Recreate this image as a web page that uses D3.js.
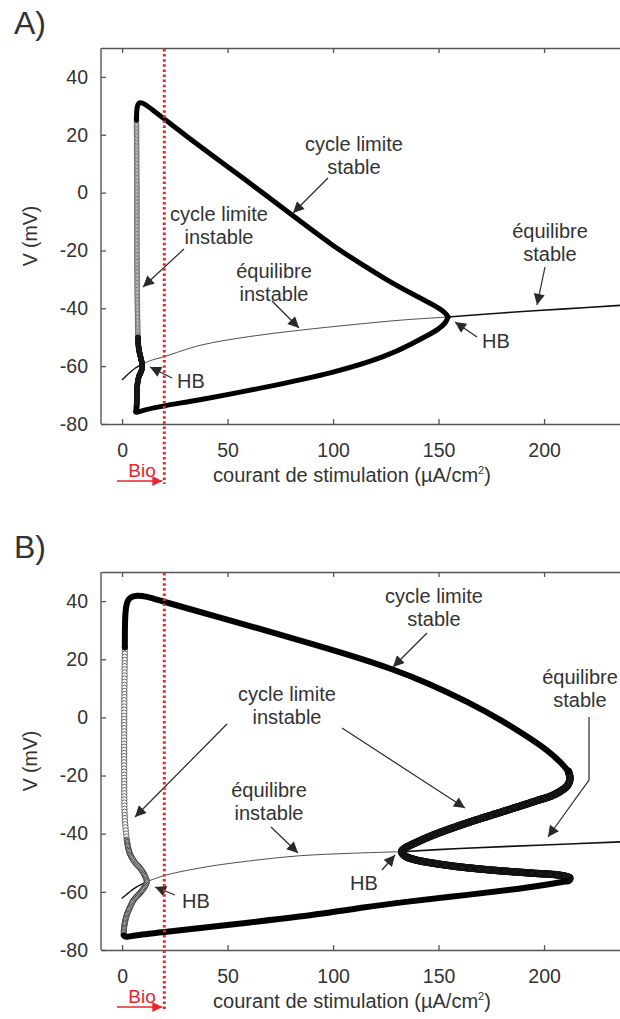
<!DOCTYPE html>
<html><head><meta charset="utf-8">
<script src="https://cdn.jsdelivr.net/npm/d3@7"></script>
<style>
html,body{margin:0;padding:0;background:#fff;}
svg{display:block;}
text{font-family:"Liberation Sans",Arial,sans-serif;fill:#333;}
</style></head>
<body>
<svg id="c" width="620" height="1019"></svg>
<script>
// ---------- data ----------
const xTicks = [0, 50, 100, 150, 200];
const yTicks = [-80, -60, -40, -20, 0, 20, 40];
const xLabel = "courant de stimulation (µA/cm";
const yLabel = "V (mV)";
const bioLabel = "Bio";
const bioCurrent = 20;

// Panel A
const eqStableLowA = [[0,-64.8],[2,-63.3],[4,-62],[6,-60.8],[8,-59.9],[9.5,-59.4]];
const eqUnstableA = [[9.5,-59.4],[13,-58.2],[20,-56.7],[37,-52.8],[60,-49.8],[84,-47.6],[110,-45.6],[132,-44.1],[154.5,-43]];
const eqStableHighA = [[154.5,-43],[180,-41.6],[210,-40.2],[236,-39]];
const cycleStableMaxA = [[6.8,25],[6.9,28.5],[7.4,30.6],[8.5,31.3],[10.5,30.8],[15,28.3],[20,25.5],[35,17],[51,8.5],[65,0.8],[81,-8],[100,-18.5],[113,-24.5],[125.6,-30.3],[138,-35.2],[146,-38.2],[151,-40.3],[153.5,-41.8],[154.5,-43]];
const cycleStableMinA = [[154.5,-43],[153.5,-45],[150,-47.2],[145,-49.3],[138,-52],[125.6,-56.6],[100,-62.4],[68.7,-67.2],[37,-71.7],[20,-73.6],[10,-75.2],[6.2,-76.2],[6.4,-75.5],[6.8,-74.5]];
const cycleUnstableUpperA = [[6.8,26],[6.9,15],[7,0],[7,-15],[7.1,-30],[7.3,-42],[7.5,-50]];
const cycleUnstableLowerA = [[7.5,-50],[7.9,-54],[8.8,-57],[9.5,-59.5],[9.2,-61.5],[8,-63.5],[7.3,-66],[7,-70],[6.9,-73],[6.8,-74.5]];

// Panel B
const eqStableLowB = [[-0.2,-62.3],[2,-61],[4,-59.8],[6,-58.7],[9,-57.5],[11.7,-56.5]];
const eqUnstableB = [[11.7,-56.5],[21,-54.2],[40,-51.4],[60,-49.4],[84,-47.6],[110,-46.7],[132.5,-46.2]];
const eqStableHighB = [[132.5,-46.2],[160,-45.1],[200,-43.9],[236,-42.8]];
const cycleStableMaxB = [[1.3,24],[1.3,30],[1.5,36],[2.2,39.7],[3.8,41.4],[7,42],[11,41.7],[19.6,39.8],[50,33.6],[84.4,26.5],[110,21],[128.4,16.6],[146,11.5],[163.4,5.5],[180,-1],[193,-7],[202,-11.5],[208,-15.5],[211.5,-18.5]];
const cycleUnstableRightB = [[211.5,-18.5],[212.3,-21],[211,-23.5],[205,-26.5],[195,-29],[180,-32.5],[163.5,-36.3],[147.4,-40.5],[138,-43.5],[134,-45],[132.5,-46.2],[134,-47.6],[138,-48.8],[155.5,-51],[175,-52.5],[195,-53.6],[207.6,-54.3],[212.3,-55.3],[211,-56.3]];
const cycleStableMinB = [[211,-56.3],[204.3,-57.2],[190,-58.8],[163.5,-61.1],[132,-63.6],[116,-65.2],[84.4,-68.6],[50,-71.4],[21.2,-73.7],[5,-75],[1.5,-75.7],[0.8,-75]];
const cycleUnstableUpperB = [[1.3,24],[1.1,10],[1,-5],[1,-20],[1.3,-35],[2.2,-42]];
const cycleUnstableLowerB = [[2.2,-42],[3.5,-46.5],[6,-49.8],[8.7,-52],[10.8,-54.5],[11.7,-56.5],[10.5,-58.5],[8.5,-60.4],[5.5,-62.8],[3.8,-65.2],[2.2,-68],[1.2,-71],[0.8,-73.5],[0.8,-75]];

// ---------- drawing ----------
const svg = d3.select("#c");
const defs = svg.append("defs");
defs.append("marker").attr("id","ah").attr("viewBox","0 0 10 10").attr("refX",10).attr("refY",5)
  .attr("markerWidth",13).attr("markerHeight",11).attr("markerUnits","userSpaceOnUse").attr("orient","auto")
  .append("path").attr("d","M0,0 L10,5 L0,10 Z").attr("fill","#2a2a2a");
defs.append("marker").attr("id","ahr").attr("viewBox","0 0 10 10").attr("refX",10).attr("refY",5)
  .attr("markerWidth",12).attr("markerHeight",10).attr("markerUnits","userSpaceOnUse").attr("orient","auto")
  .append("path").attr("d","M0,0 L10,5 L0,10 Z").attr("fill","#e8262d");

const x = d3.scaleLinear().domain([-10, 236]).range([101, 620]);
const FS = 19.5;
const FA = 20;

function drawPanel(p) {
  const y = d3.scaleLinear().domain([-80, 50]).range([p.bottom, p.top]);
  const g = svg.append("g");
  const line = d3.line().x(d => x(d[0])).y(d => y(d[1])).curve(d3.curveCatmullRom.alpha(0.5));
  const smooth = d3.line().x(d => x(d[0])).y(d => y(d[1])).curve(d3.curveBasis);

  // panel letter
  g.append("text").attr("x", 14).attr("y", p.top - 14).attr("font-size", 32).text(p.letter);

  // axes
  const ax = g.append("g").attr("transform", `translate(0,${p.bottom})`)
    .call(d3.axisBottom(x).tickValues(xTicks).tickSize(-5).tickSizeOuter(0).tickPadding(0).tickFormat(d => String(d)));
  ax.selectAll("text").attr("y", 26).attr("dy", "0.35em").attr("font-size", FS).attr("font-family", null);
  const axT = g.append("g").attr("transform", `translate(0,${p.top})`)
    .call(d3.axisTop(x).tickValues(xTicks).tickSize(-5).tickSizeOuter(0).tickFormat(""));
  const ay = g.append("g").attr("transform", `translate(101,0)`)
    .call(d3.axisLeft(y).tickValues(yTicks).tickSize(-5).tickSizeOuter(0).tickPadding(13).tickFormat(d => String(d)));
  ay.selectAll("text").attr("font-size", FS).attr("font-family", null);
  [ax, axT, ay].forEach(a => {
    a.select(".domain").attr("stroke", "#555").attr("stroke-width", 1.4);
    a.selectAll(".tick line").attr("stroke", "#555").attr("stroke-width", 1.3);
    a.selectAll("text").attr("fill", "#333");
  });
  ay.select(".domain").attr("d", `M0,${p.top}V${p.bottom}`);

  // axis titles
  const xt = g.append("text").attr("x", 352).attr("y", p.bottom + 58).attr("text-anchor", "middle")
    .attr("font-size", FA);
  xt.append("tspan").text(xLabel);
  xt.append("tspan").attr("font-size", 11).attr("dy", -8).text("2");
  xt.append("tspan").attr("dy", 8).text(")");
  g.append("text").attr("transform", `translate(37,${(p.top + p.bottom) / 2}) rotate(-90)`)
    .attr("text-anchor", "middle").attr("font-size", FS).text(yLabel);

  // equilibria
  g.append("path").attr("d", line(p.eqLow)).attr("fill", "none").attr("stroke", "#111").attr("stroke-width", 1.4);
  g.append("path").attr("d", line(p.eqUn)).attr("fill", "none").attr("stroke", "#222").attr("stroke-width", 0.8);
  g.append("path").attr("d", line(p.eqHigh)).attr("fill", "none").attr("stroke", "#111").attr("stroke-width", 1.6);

  // unstable cycles as open circles along the computed branch
  p.unstable.forEach(u => {
    const tmp = g.append("path").attr("d", line(u.data)).attr("fill", "none").attr("stroke", "none");
    const node = tmp.node(), L = node.getTotalLength();
    const pts = d3.range(0, L + 0.01, u.step).map(l => node.getPointAtLength(l));
    tmp.remove();
    g.append("g").selectAll("circle").data(pts).join("circle")
      .attr("cx", d => d.x).attr("cy", d => d.y).attr("r", u.r)
      .attr("fill", "#fff").attr("stroke", u.color).attr("stroke-width", u.sw);
  });

  // stable cycles
  p.stable.forEach(s => {
    g.append("path").attr("d", smooth(s)).attr("fill", "none").attr("stroke", "#000")
      .attr("stroke-width", p.lw).attr("stroke-linecap", "round").attr("stroke-linejoin", "round");
  });

  // annotations
  p.notes.forEach(n => {
    n.lines.forEach((t, i) => {
      g.append("text").attr("x", n.tx).attr("y", n.ty + i * 23).attr("text-anchor", "middle")
        .attr("dy", "0.35em").attr("font-size", FA).text(t);
    });
    n.arrows.forEach(a => {
      g.append("path").attr("d", "M" + a.map(q => q.join(",")).join("L"))
        .attr("fill", "none").attr("stroke", "#2a2a2a").attr("stroke-width", 1.2).attr("marker-end", "url(#ah)");
    });
  });

  // Bio marker
  g.append("line").attr("x1", x(bioCurrent)).attr("x2", x(bioCurrent)).attr("y1", p.top + 1).attr("y2", p.bottom + 60)
    .attr("stroke", "#e8262d").attr("stroke-width", 3).attr("stroke-dasharray", "2.5,2.6");
  g.append("line").attr("x1", 117).attr("x2", x(bioCurrent) - 2).attr("y1", p.bottom + 57).attr("y2", p.bottom + 57)
    .attr("stroke", "#e8262d").attr("stroke-width", 1.5).attr("marker-end", "url(#ahr)");
  g.append("text").attr("x", 142).attr("y", p.bottom + 46).attr("text-anchor", "middle").attr("dy", "0.35em")
    .attr("font-size", 19).style("fill", "#e8262d").text(bioLabel);
}

drawPanel({
  letter: "A)", top: 48, bottom: 424, lw: 5,
  eqLow: eqStableLowA, eqUn: eqUnstableA, eqHigh: eqStableHighA,
  stable: [cycleStableMaxA, cycleStableMinA],
  unstable: [
    {data: cycleUnstableUpperA, step: 1.4, r: 2.3, color: "#555", sw: 0.8},
    {data: cycleUnstableLowerA, step: 0.6, r: 2.2, color: "#111", sw: 1.1}
  ],
  notes: [
    {lines: ["cycle limite", "stable"], tx: 354, ty: 144, arrows: [[[328,178],[293,213]]]},
    {lines: ["cycle limite", "instable"], tx: 219, ty: 214, arrows: [[[184,249],[143,287]]]},
    {lines: ["équilibre", "instable"], tx: 274, ty: 271, arrows: [[[272,301],[299,328]]]},
    {lines: ["équilibre", "stable"], tx: 550, ty: 231, arrows: [[[545,267],[537,305]]]},
    {lines: ["HB"], tx: 496, ty: 341, arrows: [[[477,337],[455,322]]]},
    {lines: ["HB"], tx: 191, ty: 381, arrows: [[[172,378],[150,367]]]}
  ]
});

drawPanel({
  letter: "B)", top: 572, bottom: 950, lw: 6,
  eqLow: eqStableLowB, eqUn: eqUnstableB, eqHigh: eqStableHighB,
  stable: [cycleStableMaxB, cycleStableMinB],
  unstable: [
    {data: cycleUnstableUpperB, step: 3.1, r: 2.7, color: "#444", sw: 0.8},
    {data: cycleUnstableLowerB, step: 1.3, r: 2.6, color: "#333", sw: 0.9},
    {data: cycleUnstableRightB, step: 0.9, r: 3, color: "#111", sw: 1.4}
  ],
  notes: [
    {lines: ["cycle limite", "stable"], tx: 434, ty: 596, arrows: [[[427,633],[393,667]]]},
    {lines: ["cycle limite", "instable"], tx: 287, ty: 694, arrows: [[[227,724],[135,817]], [[342,728],[465,808]]]},
    {lines: ["équilibre", "instable"], tx: 269, ty: 790, arrows: [[[271,827],[298,853]]]},
    {lines: ["équilibre", "stable"], tx: 580, ty: 677, arrows: [[[589,717],[589,780],[548,837]]]},
    {lines: ["HB"], tx: 364, ty: 883, arrows: [[[382,870],[395,855]]]},
    {lines: ["HB"], tx: 196, ty: 901, arrows: [[[175,895],[155,887]]]}
  ]
});
</script>
</body></html>
